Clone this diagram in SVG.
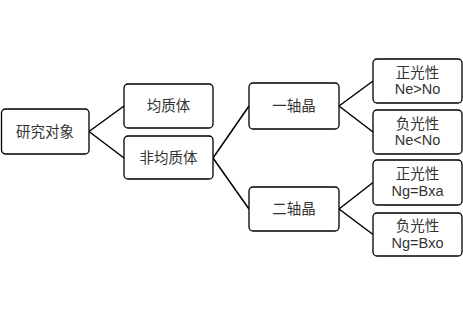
<svg xmlns="http://www.w3.org/2000/svg" width="463" height="314" viewBox="0 0 463 314">
<style>
.box{fill:#fff;stroke:#000;stroke-width:1.3}
.t{font-family:"Liberation Sans","Noto Sans CJK SC",sans-serif;font-size:14.5px;fill:#333;text-anchor:middle}
.c{fill:none;stroke:#000;stroke-width:1.5}
</style>
<rect width="463" height="314" fill="#fff"/>
<g id="connectors">
<path class="c" d="M89,131.5 L124,106 M89,131.5 L124,158"/>
<path class="c" d="M213,158 L249,106 M213,158 L249,209"/>
<path class="c" d="M339,106 L373,81 M339,106 L373,132"/>
<path class="c" d="M339,209 L373,182.5 M339,209 L373,234.5"/>
</g>
<g id="root"><rect class="box" x="1.5" y="109" width="87.5" height="45" rx="4"/><text class="t" x="45" y="137">研究对象</text></g>
<g id="homo"><rect class="box" x="124" y="84" width="89" height="44" rx="4"/><text class="t" x="168.5" y="111">均质体</text></g>
<g id="hetero"><rect class="box" x="124" y="136" width="89" height="43" rx="4"/><text class="t" x="168.5" y="162.5">非均质体</text></g>
<g id="uniaxial"><rect class="box" x="249" y="83" width="90" height="46" rx="4"/><text class="t" x="294" y="111">一轴晶</text></g>
<g id="biaxial"><rect class="box" x="249" y="187" width="90" height="44" rx="4"/><text class="t" x="294" y="214">二轴晶</text></g>
<g id="uni-pos"><rect class="box" x="373" y="59" width="89" height="44" rx="4"/><text class="t" x="417.5" y="77.5">正光性</text><text class="t" x="417.5" y="94">Ne&gt;No</text></g>
<g id="uni-neg"><rect class="box" x="373" y="110" width="89" height="44" rx="4"/><text class="t" x="417.5" y="128.5">负光性</text><text class="t" x="417.5" y="145">Ne&lt;No</text></g>
<g id="bi-pos"><rect class="box" x="373" y="160" width="89" height="45" rx="4"/><text class="t" x="417.5" y="179">正光性</text><text class="t" x="417.5" y="195.5">Ng=Bxa</text></g>
<g id="bi-neg"><rect class="box" x="373" y="213" width="89" height="43" rx="4"/><text class="t" x="417.5" y="231">负光性</text><text class="t" x="417.5" y="247.5">Ng=Bxo</text></g>
</svg>
